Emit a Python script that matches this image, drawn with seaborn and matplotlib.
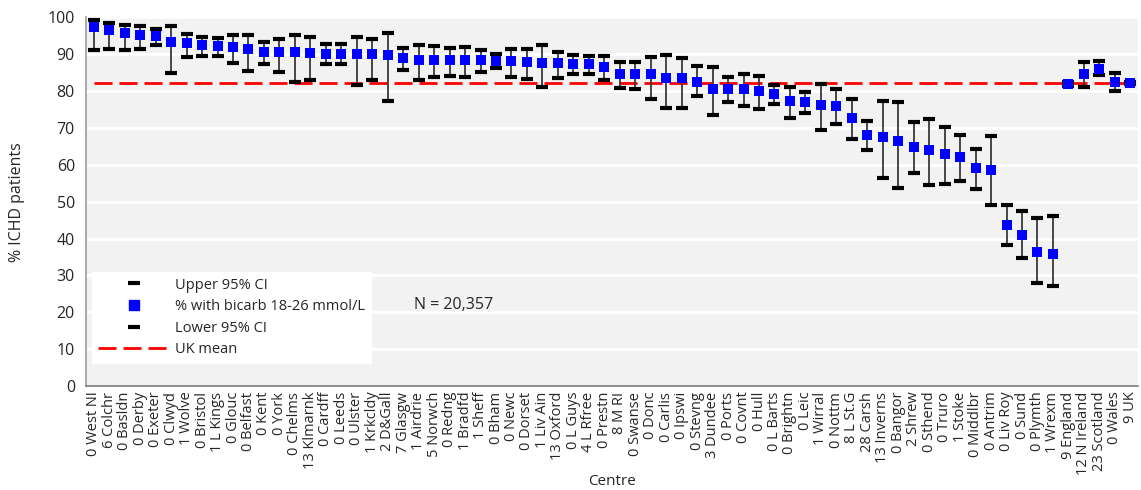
import matplotlib
matplotlib.use("Agg")
import numpy as np
import pandas as pd
import matplotlib.pyplot as plt
import seaborn as sns
from matplotlib.lines import Line2D

# ─────────────────────────────────────────
# DATA
# ─────────────────────────────────────────

centres = [
    "0 West NI", "6 Colchr", "0 Basldn", "0 Derby", "0 Exeter", "0 Clwyd",
    "1 Wolve", "0 Bristol", "1 L Kings", "0 Glouc", "0 Belfast", "0 Kent",
    "0 York", "0 Chelms", "13 Klmarnk", "0 Cardff", "0 Leeds", "0 Ulster",
    "1 Krkcldy", "2 D&Gall", "7 Glasgw", "1 Airdrie", "5 Norwch", "0 Redng",
    "1 Bradfd", "1 Sheff", "0 Bham", "0 Newc", "0 Dorset", "1 Liv Ain",
    "13 Oxford", "0 L Guys", "4 L Rfree", "0 Prestn", "8 M RI", "0 Swanse",
    "0 Donc", "0 Carlis", "0 Ipswi", "0 Stevng", "3 Dundee", "0 Ports",
    "0 Covnt", "0 Hull", "0 L Barts", "0 Brightn", "0 Leic", "1 Wirral",
    "0 Nottm", "8 L St.G", "28 Carsh", "13 Inverns", "0 Bangor", "2 Shrew",
    "0 Sthend", "0 Truro", "1 Stoke", "0 Middlbr", "0 Antrim", "0 Liv Roy",
    "0 Sund", "0 Plymth", "1 Wrexm", "9 England", "12 N Ireland",
    "23 Scotland", "0 Wales", "9 UK",
]

pct_bicarb = [
    97.3, 96.4, 95.6, 95.2, 94.9, 93.4, 92.9, 92.5, 92.3, 92.0, 91.4, 90.5,
    90.5, 90.5, 90.2, 90.1, 90.1, 89.9, 89.9, 89.7, 89.0, 88.5, 88.5, 88.5,
    88.5, 88.5, 88.1, 88.0, 87.8, 87.7, 87.5, 87.2, 87.2, 86.5, 84.6, 84.6,
    84.5, 83.6, 83.4, 82.5, 80.6, 80.5, 80.5, 80.0, 79.1, 77.2, 77.0, 76.2,
    76.0, 72.7, 68.0, 67.6, 66.3, 64.9, 64.0, 62.9, 62.0, 59.0, 58.7, 43.6,
    41.0, 36.3, 35.9, 81.9, 84.6, 86.0, 82.4, 82.2,
]

upper_ci = [
    99.3, 98.5, 97.9, 97.6, 96.7, 97.5, 95.5, 94.7, 94.3, 95.2, 95.1, 93.2,
    94.2, 95.2, 94.6, 92.6, 92.6, 94.6, 94.2, 95.7, 91.6, 92.5, 92.1, 91.7,
    91.9, 91.0, 89.9, 91.5, 91.5, 92.4, 90.6, 89.8, 89.6, 89.4, 87.8, 87.9,
    89.3, 89.7, 88.8, 86.8, 86.4, 83.7, 84.5, 84.1, 81.5, 81.0, 79.7, 81.8,
    80.4, 77.9, 71.8, 77.3, 77.0, 71.6, 72.5, 70.2, 68.0, 64.4, 67.9, 49.1,
    47.5, 45.7, 46.1, 82.3, 87.8, 88.0, 84.8, 82.5,
]

lower_ci = [
    91.1, 91.3, 91.1, 91.4, 92.4, 84.9, 89.1, 89.6, 89.5, 87.5, 85.5, 87.2,
    85.1, 82.5, 83.0, 87.2, 87.2, 81.5, 83.1, 77.4, 85.8, 83.1, 83.9, 84.1,
    83.7, 85.1, 86.2, 83.7, 83.3, 81.0, 83.6, 84.5, 84.5, 83.0, 80.7, 80.5,
    77.9, 75.3, 75.5, 78.6, 73.5, 77.0, 75.8, 75.2, 76.4, 72.7, 74.1, 69.5,
    71.1, 66.9, 63.9, 56.4, 53.6, 57.8, 54.5, 54.7, 55.7, 53.5, 49.0, 38.3,
    34.8, 27.9, 27.2, 81.4, 81.0, 84.2, 80.0, 81.9,
]

uk_mean = 82.2
n_patients = "N = 20,357"

df = pd.DataFrame({"centre": centres, "pct": pct_bicarb,
                   "upper": upper_ci, "lower": lower_ci})
df["x"] = np.arange(len(df))

# ─────────────────────────────────────────
# PLOT
# ─────────────────────────────────────────

sns.set_theme(style="white")
plt.rcParams["font.family"] = ["Open Sans", "DejaVu Sans"]

fig = plt.figure(figsize=(11.41, 4.9), dpi=100)
ax = fig.add_axes([0.0754, 0.212, 0.922, 0.753])
ax.set_facecolor("#f2f2f2")

# UK mean dashed line
ax.plot(df["x"], [uk_mean] * len(df), color="#ff0000", lw=2,
        ls=(0, (6.5, 2.5)), zorder=2)

# high-low lines + caps
ax.vlines(df["x"], df["lower"], df["upper"], color="#3a3a3a", lw=1.3, zorder=3)
ax.plot(df["x"], df["upper"], ls="none", marker="_", ms=9, mew=3,
        color="black", zorder=4)
ax.plot(df["x"], df["lower"], ls="none", marker="_", ms=9, mew=3,
        color="black", zorder=4)

sns.scatterplot(data=df, x="x", y="pct", marker="s", s=42, color="#0000ff",
                linewidth=0, ax=ax, zorder=5)

ax.set_xlim(-0.5, len(df) - 0.5)
ax.set_ylim(0, 100)
ax.set_yticks(np.arange(0, 101, 10))
ax.yaxis.grid(True, color="white", lw=2)
ax.set_axisbelow(True)

ax.set_xticks(df["x"])
ax.set_xticklabels(df["centre"], rotation=90, fontsize=10.5)
ax.set_xticks(np.arange(-0.5, len(df), 1), minor=True)
ax.tick_params(axis="x", which="major", length=0, pad=4)
ax.tick_params(axis="x", which="minor", length=5, width=1, color="#808080",
               direction="out")
ax.tick_params(axis="y", length=0, labelsize=11.5, pad=8)

for s in ["top", "right"]:
    ax.spines[s].set_visible(False)
ax.spines["left"].set_color("#a0a0a0")
ax.spines["bottom"].set_color("#808080")

ax.set_xlabel("Centre", fontsize=11, labelpad=-1)
ax.set_ylabel("% ICHD patients", fontsize=11.5, labelpad=16)

ax.text(0.312, 0.22, n_patients, transform=ax.transAxes, fontsize=11.5,
        va="center", ha="left")

handles = [
    Line2D([], [], ls="none", marker="_", ms=9, mew=3, color="black"),
    Line2D([], [], ls="none", marker="s", ms=7, color="#0000ff"),
    Line2D([], [], ls="none", marker="_", ms=9, mew=3, color="black"),
    Line2D([], [], color="#ff0000", lw=2, ls=(0, (6.5, 2.5))),
]
labels = ["Upper 95% CI", "% with bicarb 18-26 mmol/L", "Lower 95% CI",
          "UK mean"]
leg = ax.legend(handles, labels, loc="upper left",
                bbox_to_anchor=(0.0, 0.326), fontsize=10.5, frameon=True,
                fancybox=False, framealpha=1, edgecolor="white",
                facecolor="white", handlelength=5.0, handletextpad=0.3,
                labelspacing=0.45, borderpad=0.4, borderaxespad=0.4)
leg.set_zorder(6)

plt.savefig("out.png", dpi=100)
plt.close()
